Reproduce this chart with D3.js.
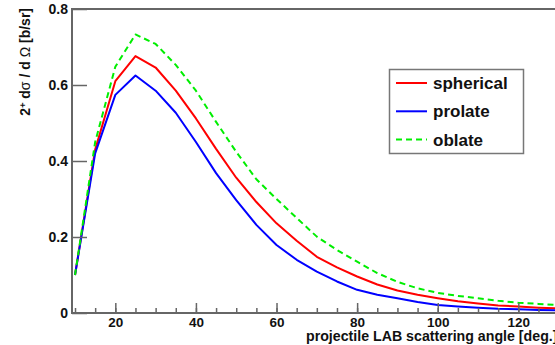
<!DOCTYPE html>
<html>
<head>
<meta charset="utf-8">
<script src="https://cdn.jsdelivr.net/npm/d3@7"></script>
<style>
  body { margin: 0; background: #fff; }
  svg { display: block; font-family: "Liberation Sans", Arial, sans-serif; }
</style>
</head>
<body>
<div id="chart"></div>
<script>
const angles = [10, 15, 20, 25, 30, 35, 40, 45, 50, 55, 60, 65, 70, 75, 80, 85, 90, 95, 100, 105, 110, 115, 120, 125, 130];
const spherical = [0.10, 0.43, 0.61, 0.676, 0.646, 0.585, 0.512, 0.432, 0.356, 0.292, 0.236, 0.19, 0.148, 0.12, 0.096, 0.075, 0.059, 0.048, 0.039, 0.031, 0.025, 0.02, 0.017, 0.014, 0.012];
const prolate = [0.10, 0.42, 0.574, 0.625, 0.585, 0.527, 0.45, 0.368, 0.297, 0.232, 0.179, 0.14, 0.109, 0.083, 0.061, 0.048, 0.039, 0.029, 0.021, 0.017, 0.014, 0.011, 0.0097, 0.008, 0.007];
const oblate = [0.10, 0.45, 0.648, 0.733, 0.708, 0.653, 0.585, 0.503, 0.424, 0.352, 0.30, 0.25, 0.201, 0.166, 0.135, 0.105, 0.082, 0.065, 0.053, 0.045, 0.039, 0.032, 0.027, 0.024, 0.021];

const xTicks = [20, 40, 60, 80, 100, 120];
const yTicks = [0, 0.2, 0.4, 0.6, 0.8];

const series = [
  { name: "spherical", values: spherical, color: "#ff0000", dash: null },
  { name: "prolate", values: prolate, color: "#0000ff", dash: null },
  { name: "oblate", values: oblate, color: "#00ee00", dash: "6,4" }
];

const width = 555;
const height = 345;
const axisColor = "#666";

const svg = d3.select("#chart").append("svg")
  .attr("width", width)
  .attr("height", height);

// plot area runs off the right edge of the picture
const x = d3.scaleLinear().domain([9.25, 140]).range([72, 72 + (140 - 9.25) * 4.03]);
const y = d3.scaleLinear().domain([0, 0.8]).range([313, 9]);

// curves
const line = d3.line()
  .x((d, i) => x(angles[i]))
  .y(d => y(d));

series.forEach(s => {
  svg.append("path")
    .datum(s.values)
    .attr("fill", "none")
    .attr("stroke", s.color)
    .attr("stroke-width", 2)
    .attr("stroke-linejoin", "round")
    .attr("stroke-dasharray", s.dash)
    .attr("d", line);
});

// x axis with inward ticks
const xAxis = svg.append("g")
  .attr("transform", `translate(0,${y(0)})`)
  .call(d3.axisBottom(x).tickValues(d3.range(10, 140, 5)).tickSize(-5).tickFormat(""));
xAxis.selectAll("line").attr("stroke", axisColor).attr("stroke-width", 1.5);
xAxis.select(".domain").remove();

const xMajor = svg.append("g")
  .attr("transform", `translate(0,${y(0)})`)
  .call(d3.axisBottom(x).tickValues(xTicks).tickSize(-10).tickPadding(4));
xMajor.selectAll("line").attr("stroke", axisColor).attr("stroke-width", 1.5);
xMajor.select(".domain").remove();
xMajor.selectAll("text")
  .attr("font-family", "Liberation Sans, Arial, sans-serif")
  .attr("font-weight", "bold")
  .attr("font-size", 13.5)
  .attr("fill", "#111");

// y axis with inward ticks
const yAxis = svg.append("g")
  .attr("transform", `translate(${x(9.25)},0)`)
  .call(d3.axisLeft(y).tickValues(yTicks).tickSize(-15).tickPadding(5)
    .tickFormat(d => d === 0 ? "0" : d3.format(".1f")(d)));
yAxis.selectAll("line").attr("stroke", axisColor).attr("stroke-width", 1.5);
yAxis.select(".domain").remove();
yAxis.selectAll("text")
  .attr("font-family", "Liberation Sans, Arial, sans-serif")
  .attr("font-weight", "bold")
  .attr("font-size", 14)
  .attr("fill", "#111")
  .attr("x", -4);

// frame
svg.append("line")
  .attr("x1", 72).attr("x2", width + 5)
  .attr("y1", y(0)).attr("y2", y(0))
  .attr("stroke", axisColor).attr("stroke-width", 2);
svg.append("line")
  .attr("x1", 72).attr("x2", width + 5)
  .attr("y1", y(0.8)).attr("y2", y(0.8))
  .attr("stroke", axisColor).attr("stroke-width", 2);
svg.append("line")
  .attr("x1", 72).attr("x2", 72)
  .attr("y1", y(0.8) - 1).attr("y2", y(0) + 1)
  .attr("stroke", axisColor).attr("stroke-width", 2);

// axis titles
svg.append("text")
  .attr("x", 306)
  .attr("y", 341)
  .attr("font-weight", "bold")
  .attr("font-size", 14.2)
  .attr("fill", "#111")
  .text("projectile LAB scattering angle [deg.]");

const yTitle = svg.append("text")
  .attr("transform", "translate(30,8) rotate(-90)")
  .attr("text-anchor", "end")
  .attr("font-weight", "bold")
  .attr("font-size", 14)
  .attr("fill", "#111");
yTitle.append("tspan").text("2");
yTitle.append("tspan").attr("font-size", 9).attr("dy", "-0.5em").text("+");
yTitle.append("tspan").attr("dy", "0.32em").text(" d");
yTitle.append("tspan").attr("font-weight", "normal").text("σ");
yTitle.append("tspan").text(" / d ");
yTitle.append("tspan").attr("font-weight", "normal").text("Ω");
yTitle.append("tspan").text(" [b/sr]");

// legend
const legend = svg.append("g");
legend.append("rect")
  .attr("x", 389.5).attr("y", 69.5)
  .attr("width", 134).attr("height", 84)
  .attr("fill", "#fff")
  .attr("stroke", "#777")
  .attr("stroke-width", 1.5);

series.forEach((s, i) => {
  const ly = 83 + i * 28.3;
  legend.append("line")
    .attr("x1", 396).attr("x2", 427)
    .attr("y1", ly).attr("y2", ly)
    .attr("stroke", s.color)
    .attr("stroke-width", 2)
    .attr("stroke-dasharray", s.dash);
  legend.append("text")
    .attr("x", 433)
    .attr("y", ly)
    .attr("dy", "0.35em")
    .attr("font-weight", "bold")
    .attr("font-size", 17)
    .attr("fill", "#111")
    .text(s.name);
});
</script>
</body>
</html>
